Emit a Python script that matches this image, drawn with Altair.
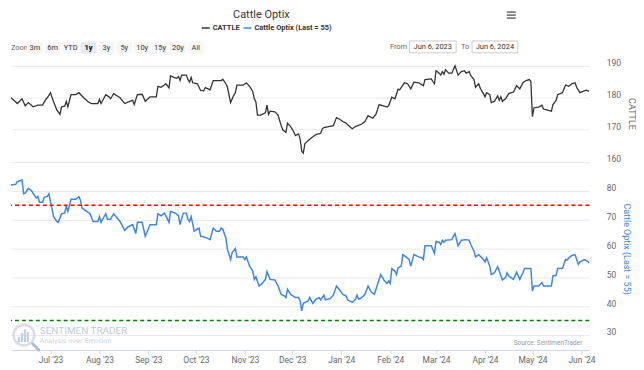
import altair as alt
import pandas as pd

FONT = "Liberation Sans Narrow, Roboto, sans-serif"

title_text = "Cattle Optix"
series_names = ["CATTLE", "Cattle Optix (Last = 55)"]
series_colors = ["#333333", "#3d87e0"]
zoom_buttons = ["3m", "6m", "YTD", "1y", "3y", "5y", "10y", "15y", "20y", "All"]
selected_button = "1y"
range_labels = ["From", "To"]
range_dates = ["Jun 6, 2023", "Jun 6, 2024"]
start_date = "2023-06-06"

# CATTLE (day offset from Jun 6 2023, value)
cattle_days = [0, 3, 4, 7, 9, 11, 14, 17, 20, 22, 23, 25, 27, 29, 31, 32, 34, 35, 36, 38,
               41, 43, 46, 49, 51, 55, 56, 57, 60, 62, 63, 65, 69, 72, 75, 77, 78, 80, 83, 85,
               88, 92, 93, 95, 97, 98, 100, 101, 103, 105, 106, 107, 108, 111, 112, 113, 114, 115, 118, 120,
               122, 123, 126, 128, 133, 134, 136, 137, 139, 141, 142, 143, 147, 149, 151, 153, 154, 155, 156, 158,
               161, 162, 163, 164, 167, 169, 171, 172, 174, 175, 177, 179, 180, 182, 183, 184, 185, 186, 188, 190,
               193, 196, 197, 198, 201, 204, 206, 208, 210, 212, 215, 216, 218, 222, 224, 226, 229, 231, 233, 238,
               239, 241, 243, 245, 246, 249, 251, 253, 255, 258, 261, 262, 266, 267, 268, 269, 271, 272, 273, 274,
               275, 277, 279, 281, 283, 285, 287, 288, 290, 291, 293, 294, 296, 297, 299, 300, 301, 303, 304, 306,
               308, 309, 310, 311, 313, 315, 318, 320, 322, 324, 326, 328, 329, 330, 331, 334, 336, 337, 339, 342,
               343, 345, 346, 349, 351, 353, 355, 357, 358, 360, 362, 364, 366]
cattle_vals = [180.0, 178.7, 178.2, 179.7, 177.5, 178.5, 177.2, 177.7, 177.7, 179.5, 180.0, 181.6, 178.7, 176.2, 174.8, 177.2, 177.4, 178.9, 177.2, 181.0,
               181.0, 181.6, 180.0, 178.7, 178.2, 178.2, 179.5, 178.2, 181.0, 180.3, 179.7, 181.3, 180.0, 178.2, 178.9, 179.2, 177.9, 181.0, 181.1, 178.9,
               180.3, 180.3, 183.6, 183.3, 184.0, 184.4, 183.1, 186.9, 186.4, 186.1, 186.7, 185.4, 187.1, 187.1, 185.7, 184.9, 186.4, 184.7, 184.4, 182.3,
               182.2, 183.2, 182.5, 185.4, 185.4, 185.8, 184.4, 183.3, 178.5, 180.8, 181.6, 184.0, 184.0, 184.7, 183.6, 182.0, 179.7, 178.7, 174.6, 174.6,
               175.3, 177.7, 174.8, 175.8, 175.6, 174.6, 171.3, 170.0, 169.2, 172.1, 171.0, 169.3, 168.2, 168.7, 167.1, 163.3, 162.7, 165.6, 166.6, 167.4,
               168.5, 168.9, 170.3, 170.7, 171.0, 171.3, 173.8, 173.3, 172.6, 172.1, 170.7, 170.3, 171.0, 171.8, 172.6, 174.4, 173.6, 174.9, 177.9, 177.1,
               177.5, 180.2, 179.7, 182.7, 182.5, 184.7, 184.4, 182.8, 184.9, 184.7, 183.8, 185.7, 185.9, 185.1, 184.4, 188.5, 187.7, 187.1, 188.2, 187.4,
               188.8, 187.7, 187.7, 190.0, 187.1, 188.2, 188.5, 187.7, 188.2, 186.9, 185.7, 183.3, 184.4, 183.0, 181.3, 180.3, 181.6, 181.0, 178.5, 178.9,
               180.6, 179.2, 180.3, 178.9, 179.7, 181.3, 181.8, 183.8, 182.8, 184.7, 185.4, 185.7, 185.2, 174.1, 176.9, 177.1, 177.7, 176.5, 176.2, 175.8,
               177.9, 179.2, 181.0, 181.6, 184.0, 183.6, 184.4, 184.7, 183.3, 181.6, 182.0, 182.4, 182.0]

# Cattle Optix (day offset from Jun 6 2023, value)
optix_days = [0, 3, 4, 7, 8, 9, 11, 13, 14, 16, 17, 18, 20, 21, 23, 24, 25, 27, 29, 30,
              32, 34, 35, 36, 38, 41, 43, 44, 45, 48, 50, 52, 55, 56, 57, 60, 61, 63, 65, 69,
              72, 74, 77, 78, 79, 80, 83, 85, 88, 92, 93, 95, 97, 98, 100, 101, 104, 106, 107, 109,
              111, 112, 113, 114, 116, 118, 119, 120, 122, 124, 126, 128, 130, 132, 133, 134, 136, 137, 139, 140,
              142, 143, 147, 148, 149, 151, 153, 154, 155, 157, 159, 161, 162, 164, 167, 169, 171, 173, 174, 175,
              177, 180, 182, 183, 184, 185, 188, 189, 191, 193, 195, 196, 198, 199, 202, 204, 206, 208, 210, 212,
              213, 216, 218, 219, 220, 222, 224, 226, 228, 230, 232, 234, 236, 238, 239, 240, 241, 243, 244, 245,
              247, 248, 250, 252, 253, 255, 258, 260, 261, 262, 266, 268, 269, 271, 272, 273, 274, 275, 279, 280,
              281, 283, 285, 288, 290, 291, 293, 294, 296, 299, 300, 301, 303, 304, 306, 308, 309, 311, 313, 314,
              315, 318, 320, 322, 324, 325, 329, 330, 331, 334, 336, 337, 342, 343, 345, 346, 349, 351, 352, 353,
              355, 357, 359, 360, 363, 365, 366]
optix_vals = [82.1, 82.3, 83.2, 83.8, 79.0, 79.2, 80.9, 80.1, 79.2, 77.5, 78.1, 76.1, 76.1, 77.8, 78.1, 79.0, 76.3, 71.1, 69.4, 69.1,
              72.1, 72.3, 74.8, 72.9, 77.1, 77.1, 78.0, 76.7, 74.0, 72.9, 72.1, 69.4, 69.4, 71.1, 69.1, 72.1, 70.2, 70.2, 72.1, 69.4,
              66.3, 67.5, 68.3, 66.8, 65.2, 69.1, 69.1, 64.3, 68.3, 68.3, 72.1, 71.4, 72.3, 71.4, 69.1, 72.9, 72.3, 71.4, 68.3, 72.3,
              72.3, 70.2, 69.4, 71.1, 66.0, 66.8, 67.1, 64.3, 64.0, 63.7, 63.1, 67.1, 66.0, 66.0, 67.1, 66.8, 63.7, 59.7, 56.2, 58.7,
              60.0, 57.1, 57.1, 56.2, 57.1, 53.9, 52.2, 49.3, 50.2, 47.0, 47.9, 49.3, 52.0, 49.3, 49.1, 47.0, 44.1, 43.6, 43.0, 45.9,
              44.1, 43.0, 43.0, 41.8, 38.4, 41.0, 41.8, 43.0, 41.0, 42.4, 43.0, 42.2, 43.8, 42.2, 42.6, 43.8, 47.0, 45.6, 44.1, 43.6,
              42.2, 41.3, 42.4, 43.8, 42.4, 43.0, 44.1, 47.0, 44.9, 44.1, 47.6, 51.0, 49.1, 47.9, 48.8, 47.9, 53.0, 52.2, 51.0, 53.3,
              53.9, 57.9, 57.1, 56.2, 53.9, 57.9, 57.1, 56.8, 56.2, 61.0, 61.0, 58.3, 62.5, 62.2, 61.4, 62.9, 62.2, 62.9, 63.1, 64.3,
              65.2, 61.0, 62.9, 63.1, 62.9, 61.4, 59.1, 57.1, 57.9, 56.2, 55.3, 56.8, 53.9, 51.0, 51.6, 53.7, 52.2, 49.1, 49.9, 51.6,
              50.5, 49.3, 51.8, 49.3, 51.6, 53.1, 53.1, 45.3, 47.0, 47.0, 48.2, 47.0, 47.0, 50.5, 50.7, 53.1, 53.1, 56.2, 56.0, 56.8,
              57.6, 57.9, 54.5, 55.3, 56.2, 55.6, 55.0]

thresholds = [75, 35]
threshold_colors = ["#ff0000", "#008000"]
cattle_ticks = [160, 170, 180, 190]
optix_ticks = [30, 40, 50, 60, 70, 80]
month_ticks = [(2023, 7), (2023, 8), (2023, 9), (2023, 10), (2023, 11), (2023, 12),
               (2024, 1), (2024, 2), (2024, 3), (2024, 4), (2024, 5), (2024, 6)]
watermark_words = ["SENTIMEN", "TRADER"]
watermark_tag = "Analysis over Emotion"
source_text = "Source: SentimenTrader"

# ---------------------------------------------------------------- layout
W, H0, H1, H2 = 582, 45, 110, 178
GRID = "#e8e8e8"
AXC = "#ccd6eb"
LBL = "#666666"

base0 = pd.Timestamp(start_date)


def to_dates(days):
    return [(base0 + pd.Timedelta(days=d)).strftime("%Y-%m-%dT00:00:00") for d in days]


df_c = pd.DataFrame({"date": to_dates(cattle_days), "value": cattle_vals})
df_o = pd.DataFrame({"date": to_dates(optix_days), "value": optix_vals})
df_thr = pd.DataFrame({"value": thresholds, "col": threshold_colors})
one = pd.DataFrame({"k": [0]})

xscale = alt.Scale(domain=[alt.DateTime(year=2023, month=6, date=6),
                           alt.DateTime(year=2024, month=6, date=6)])
yscale_c = alt.Scale(domain=[158.0, 192.2], nice=False, zero=False)
yscale_o = alt.Scale(domain=[24.8, 86.2], nice=False, zero=False)


def txt(text, x, y, size=8, color="#333333", align="left", weight="normal", font=FONT):
    return alt.Chart(one).mark_text(text=text, fontSize=size, color=color, align=align,
                                    baseline="middle", fontWeight=weight, font=font).encode(
        x=alt.value(x), y=alt.value(y))


# ---------------------------------------------------------------- header
btn_df = pd.DataFrame({
    "label": zoom_buttons,
    "cx": [24 + 18 * i for i in range(len(zoom_buttons))],
})
btn_df["x0"] = btn_df["cx"] - 8
btn_df["x1"] = btn_df["cx"] + 8
btn_df["fill"] = ["#e6ebf5" if b == selected_button else "#f7f7f7" for b in zoom_buttons]
btn_df["sel"] = [b == selected_button for b in zoom_buttons]

btn_rect = alt.Chart(btn_df).mark_rect(cornerRadius=1).encode(
    x=alt.X("x0:Q", scale=None), x2="x1:Q",
    y=alt.value(33), y2=alt.value(45),
    color=alt.Color("fill:N", scale=None))
btn_txt = alt.Chart(btn_df).transform_filter("!datum.sel").mark_text(
    fontSize=7.5, color="#333333", font=FONT, baseline="middle").encode(
    x=alt.X("cx:Q", scale=None), y=alt.value(39), text="label:N")
btn_sel = alt.Chart(btn_df).transform_filter("datum.sel").mark_text(
    fontSize=7.5, color="#000000", font=FONT, baseline="middle", fontWeight="bold").encode(
    x=alt.X("cx:Q", scale=None), y=alt.value(39), text="label:N")

rng_df = pd.DataFrame({"label": range_labels, "date": range_dates,
                       "lx": [390, 457], "x0": [401, 464], "x1": [448, 510]})
rng_df["tx"] = (rng_df["x0"] + rng_df["x1"]) / 2
rng_box = alt.Chart(rng_df).mark_rect(fill="#ffffff", stroke="#cccccc", strokeWidth=1).encode(
    x=alt.X("x0:Q", scale=None), x2="x1:Q", y=alt.value(32), y2=alt.value(44))
rng_lab = alt.Chart(rng_df).mark_text(fontSize=7.5, color="#666666", font=FONT, baseline="middle").encode(
    x=alt.X("lx:Q", scale=None), y=alt.value(38.5), text="label:N")
rng_date = alt.Chart(rng_df).mark_text(fontSize=7.5, color="#333333", font=FONT, baseline="middle").encode(
    x=alt.X("tx:Q", scale=None), y=alt.value(38.5), text="date:N")

leg_df = pd.DataFrame({"name": series_names, "col": series_colors,
                       "lx0": [192, 234], "lx1": [200, 242], "tx": [203, 245]})
leg_line = alt.Chart(leg_df).mark_rule(strokeWidth=1.5).encode(
    x=alt.X("lx0:Q", scale=None), x2="lx1:Q", y=alt.value(19),
    color=alt.Color("col:N", scale=None))
leg_txt = alt.Chart(leg_df).mark_text(fontSize=7.5, fontWeight="bold", color="#333333",
                                      font=FONT, align="left", baseline="middle").encode(
    x=alt.X("tx:Q", scale=None), y=alt.value(19.5), text="name:N")

menu_df = pd.DataFrame({"y": [3, 6, 9]})
menu = alt.Chart(menu_df).mark_rule(strokeWidth=1.5, color="#666666").encode(
    x=alt.value(499), x2=alt.value(508), y=alt.Y("y:Q", scale=None))

header = alt.layer(
    txt(title_text, 252, 6, size=11, color="#333333", align="center"),
    menu, leg_line, leg_txt,
    txt("Zoom", 0, 39, size=7.5, color="#666666"),
    btn_rect, btn_txt, btn_sel, rng_box, rng_lab, rng_date,
).properties(width=W, height=H0)

# ---------------------------------------------------------------- top panel
top = alt.Chart(df_c).mark_line(color=series_colors[0], strokeWidth=1.3, clip=True).encode(
    x=alt.X("date:T", scale=xscale, axis=None),
    y=alt.Y("value:Q", scale=yscale_c,
            axis=alt.Axis(orient="right", values=cattle_ticks, title="CATTLE",
                          grid=True, gridColor=GRID, domain=False, ticks=False,
                          labelPadding=17, labelFontSize=8.5, labelColor=LBL, labelFont=FONT,
                          labelBaseline="alphabetic",
                          titleFontSize=9, titleColor=LBL, titleFont=FONT,
                          titleFontWeight="normal", titleAngle=90, titlePadding=6)),
).properties(width=W, height=H1)

# ---------------------------------------------------------------- bottom panel
month_vals = [alt.DateTime(year=y, month=m, date=1) for (y, m) in month_ticks]

axis_o = alt.Axis(orient="right", values=optix_ticks, title=series_names[1],
                  grid=True, gridColor=GRID, domain=False, ticks=False,
                  labelPadding=17, labelFontSize=8.5, labelColor=LBL, labelFont=FONT,
                  labelBaseline="alphabetic",
                  titleFontSize=9, titleColor=series_colors[1], titleFont=FONT,
                  titleFontWeight="normal", titleAngle=90, titlePadding=6, titleY=76)

o_line = alt.Chart(df_o).mark_line(color=series_colors[1], strokeWidth=1.5, clip=True).encode(
    x=alt.X("date:T", scale=xscale,
            axis=alt.Axis(values=month_vals, format="%b '%y", title=None, grid=False,
                          labelFontSize=8.5, labelColor=LBL, labelFont=FONT,
                          tickColor=AXC, domainColor=AXC, tickSize=4, labelPadding=2,
                          labelOverlap=False, labelFlush=False)),
    y=alt.Y("value:Q", scale=yscale_o, axis=axis_o),
)

thr = alt.Chart(df_thr).mark_rule(strokeDash=[4, 3], strokeWidth=1.5).encode(
    y=alt.Y("value:Q", scale=yscale_o, axis=axis_o),
    color=alt.Color("col:N", scale=None))

logo_ring = alt.Chart(one).mark_point(shape="circle", size=440, filled=False,
                                      stroke="#c9ced6", strokeWidth=2.5).encode(
    x=alt.value(13), y=alt.value(163))
bars_df = pd.DataFrame({"bx": [8, 11, 14, 17], "top": [165, 161, 157, 160]})
logo_bars = alt.Chart(bars_df).mark_rule(strokeWidth=2.2, color="#c3cfdd").encode(
    x=alt.X("bx:Q", scale=None), y=alt.Y("top:Q", scale=None), y2=alt.value(170))
logo_handle = alt.Chart(one).mark_rule(strokeWidth=3, color="#a9bdd6", strokeCap="round").encode(
    x=alt.value(22), y=alt.value(172), x2=alt.value(28), y2=alt.value(178))

wm1 = txt(watermark_words[0], 29, 158.5, size=10, color="#bccde0")
wm2 = txt(watermark_words[1], 80, 158.5, size=10, color="#c6c6c6")
wm3 = txt(watermark_tag, 29, 169, size=6.5, color="#c9d0d8", font="DejaVu Sans")
src = txt(source_text, 575, 171, size=6.5, color="#999999", align="right")

bottom = alt.layer(o_line, thr, logo_ring, logo_bars, logo_handle, wm1, wm2, wm3, src).properties(
    width=W, height=H2)

chart = alt.vconcat(header, top, bottom, spacing=5).resolve_scale(
    x="independent", y="independent"
).properties(padding=0, background="#ffffff").configure_view(strokeWidth=0)

chart.save("out.html", embed_options={"renderer": "svg", "actions": False})
